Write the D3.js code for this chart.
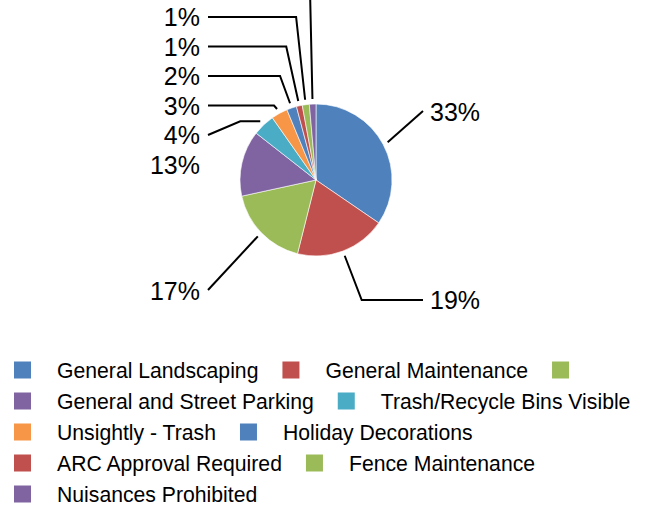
<!DOCTYPE html>
<html>
<head>
<meta charset="utf-8">
<script src="https://cdn.jsdelivr.net/npm/d3@7"></script>
<style>
  body { margin: 0; background: #fff; }
  svg { display: block; font-family: Arial, "Liberation Sans", sans-serif; }
</style>
</head>
<body>
<div id="chart"></div>
<script>
// Chart data
const categories = [
    "General Landscaping",
    "General Maintenance",
    "",
    "General and Street Parking",
    "Trash/Recycle Bins Visible",
    "Unsightly - Trash",
    "Holiday Decorations",
    "ARC Approval Required",
    "Fence Maintenance",
    "Nuisances Prohibited"
];
const values = [34.6, 19.4, 17.7, 14.0, 4.7, 3.5, 2.1, 1.25, 1.5, 1.4];
const percentLabels = ["33%", "19%", "17%", "13%", "4%", "3%", "2%", "1%", "1%", "1%"];
const colors = ["#4F81BD", "#C0504D", "#9BBB59", "#8064A2", "#4BACC6",
                "#F79646", "#4F81BD", "#C0504D", "#9BBB59", "#8064A2"];

const width = 648, height = 508;
const cx = 316, cy = 180, radius = 76;

const svg = d3.select("#chart")
    .append("svg")
    .attr("width", width)
    .attr("height", height);

const pie = d3.pie().sort(null).value((d) => d)(values);
const arc = d3.arc().innerRadius(0).outerRadius(radius);

const g = svg.append("g").attr("transform", `translate(${cx},${cy})`);

g.selectAll("path")
    .data(pie)
    .enter()
    .append("path")
    .attr("d", arc)
    .attr("fill", (d, i) => colors[i])
    .attr("stroke", "#fff")
    .attr("stroke-width", 0.6);

// Label layout: right side labels start at x 430, left side stack ends at x 200
const rightX = 430, leftX = 200, stackStep = 29.5, stackBase = 164.5;
function labelPos(i) {
    if (i === 0) return { x: rightX, y: 112, side: "right" };
    if (i === 1) return { x: rightX, y: 300, side: "right" };
    if (i === 2) return { x: leftX, y: 291, side: "left" };
    return { x: leftX, y: stackBase - (i - 3) * stackStep, side: "left" };
}
// horizontal offset of the elbow for the stacked small slices
const elbowDx = [0, 17, 0, 0, -20, -3, -10, -12, -9, -2.5];

function leader(d, i) {
    const a = (d.startAngle + d.endAngle) / 2;
    const s = [cx + (radius + 5) * Math.sin(a), cy - (radius + 5) * Math.cos(a)];
    const p = labelPos(i);
    const endX = p.side === "right" ? p.x - 7 : p.x + 8;
    if (i === 3) return null;
    if (i === 0 || i === 2) return [s, [endX, p.y - 1]];
    if (i === 1) return [s, [s[0] + elbowDx[i], p.y], [endX, p.y]];
    if (i === 4) return [s, [s[0] + elbowDx[i], s[1]], [endX, p.y]];
    return [s, [s[0] + elbowDx[i], p.y], [endX, p.y]];
}

svg.append("g")
    .selectAll("path")
    .data(pie)
    .enter()
    .filter((d, i) => leader(d, i) !== null)
    .append("path")
    .attr("d", (d) => d3.line()(leader(d, pie.indexOf(d))))
    .attr("fill", "none")
    .attr("stroke", "#000")
    .attr("stroke-width", 2);

// the top-most label sits above the visible area, so only its leader shows
svg.append("g")
    .selectAll("text")
    .data(pie.filter((d, i) => labelPos(i).y > 0))
    .enter()
    .append("text")
    .attr("x", (d) => labelPos(d.index).x)
    .attr("y", (d) => labelPos(d.index).y)
    .attr("dy", "0.36em")
    .attr("text-anchor", (d) => labelPos(d.index).side === "right" ? "start" : "end")
    .style("font-size", "25px")
    .style("fill", "#000")
    .text((d) => percentLabels[d.index]);

// Legend, flowing left to right and wrapping
const legend = svg.append("g");
const legendFont = 21.2, rowStep = 31, maxRight = 640;
let lx = 14, ly = 370;
categories.forEach((name, i) => {
    const item = legend.append("g");
    const t = item.append("text")
        .attr("x", 43)
        .attr("dy", "0.36em")
        .style("font-size", legendFont + "px")
        .style("fill", "#000")
        .text(name);
    const tw = name ? t.node().getComputedTextLength() : 0;
    const itemW = name ? 43 + tw : 17;
    if (lx + itemW > maxRight && lx > 14) {
        lx = 14;
        ly += rowStep;
    }
    item.attr("transform", `translate(${lx},${ly})`);
    item.insert("rect", "text")
        .attr("x", 0)
        .attr("y", -8.5)
        .attr("width", 17)
        .attr("height", 17)
        .attr("fill", colors[i]);
    lx += itemW + 24;
});
</script>
</body>
</html>
